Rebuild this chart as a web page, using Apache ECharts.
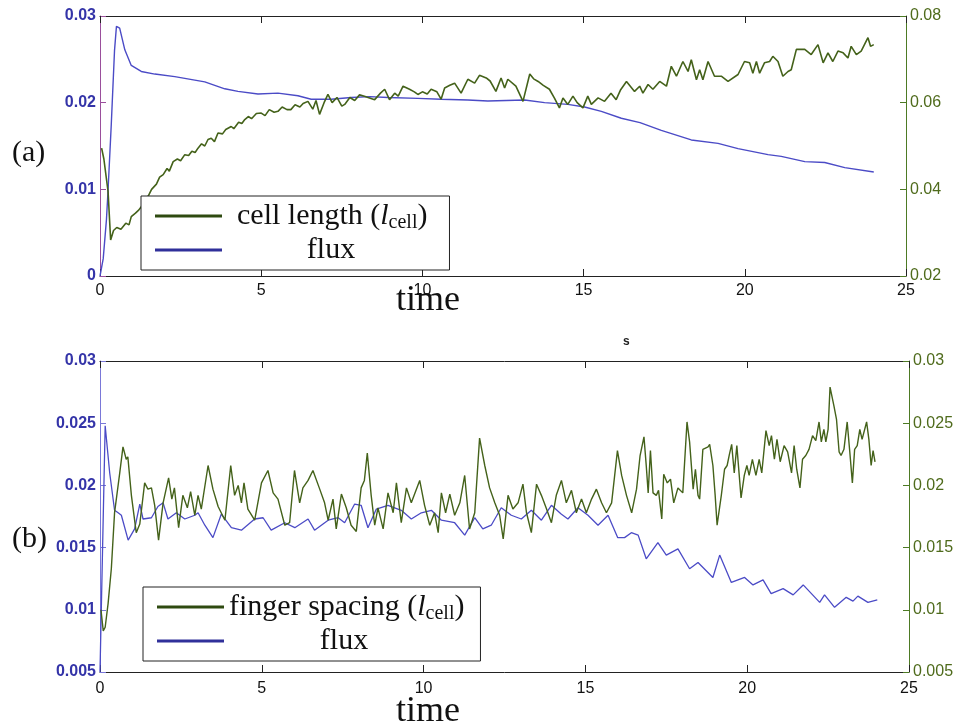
<!DOCTYPE html>
<html><head><meta charset="utf-8">
<script src="https://cdn.jsdelivr.net/npm/echarts@6/dist/echarts.min.js"></script>
<style>html,body{margin:0;padding:0;background:#fff}#c{width:963px;height:725px}</style>
</head><body><div id="c"></div><script>
// ---- tick values ----
const xTicks = [0, 5, 10, 15, 20, 25];
const topLeftTicks = [0, 0.01, 0.02, 0.03];
const topRightTicks = [0.02, 0.04, 0.06, 0.08];
const botLeftTicks = [0.005, 0.01, 0.015, 0.02, 0.025, 0.03];
const botRightTicks = [0.005, 0.01, 0.015, 0.02, 0.025, 0.03];

// ---- (a) flux, left axis ----
const topFlux = [[0,0],[0.1,0.002],[0.2,0.0065],[0.25,0.0099],[0.35,0.0175],[0.45,0.026],[0.51,0.0288],[0.61,0.0286],[0.77,0.0261],[0.97,0.0243],[1.28,0.0236],[1.7,0.0233],[2.32,0.0230],[2.94,0.0226],[3.25,0.0224],[3.87,0.0216],[4.28,0.0213],[4.9,0.0210],[5.52,0.0211],[6.14,0.0208],[6.55,0.0204],[7.17,0.0204],[7.79,0.0206],[8.37,0.0207],[8.93,0.0206],[9.86,0.0205],[10.58,0.0204],[11.41,0.0203],[12.03,0.0202],[13.17,0.0203],[13.79,0.0200],[14.51,0.0198],[15.03,0.0195],[15.55,0.0190],[16.17,0.0182],[16.75,0.0177],[17.41,0.0168],[18.34,0.0157],[19.17,0.0153],[19.79,0.0147],[20.72,0.0140],[21.13,0.0138],[21.86,0.0132],[22.48,0.0131],[23.1,0.0125],[24.0,0.0120]];

// ---- (a) cell length, right axis ----
const topCell = [[0.05,0.0495],[0.12,0.0470],[0.25,0.0395],[0.33,0.0283],[0.42,0.0305],[0.52,0.0312],[0.65,0.0308],[0.8,0.0322],[0.9,0.0318],[0.97,0.0337],[1.1,0.0345],[1.2,0.0352],[1.28,0.0360],[1.4,0.0375],[1.5,0.0385],[1.6,0.0400],[1.75,0.0412],[1.85,0.0428],[1.96,0.0434],[2.08,0.0448],[2.15,0.0442],[2.27,0.0464],[2.4,0.0470],[2.5,0.0466],[2.63,0.0480],[2.75,0.0478],[2.85,0.0488],[2.95,0.0485],[3.04,0.0495],[3.15,0.0505],[3.25,0.0500],[3.35,0.0515],[3.45,0.0518],[3.55,0.0510],[3.66,0.0530],[3.8,0.0528],[3.9,0.0538],[4.07,0.0545],[4.15,0.0540],[4.3,0.0555],[4.4,0.0552],[4.49,0.0561],[4.6,0.0568],[4.7,0.0563],[4.85,0.0575],[5.0,0.0576],[5.12,0.0570],[5.25,0.0584],[5.4,0.0578],[5.52,0.0580],[5.65,0.0590],[5.8,0.0584],[5.92,0.0584],[6.05,0.0595],[6.2,0.0590],[6.3,0.0598],[6.45,0.0603],[6.6,0.0585],[6.7,0.0605],[6.81,0.0573],[6.95,0.0600],[7.07,0.0619],[7.2,0.0600],[7.35,0.0612],[7.5,0.0592],[7.59,0.0596],[7.75,0.0612],[7.9,0.0605],[8.05,0.0618],[8.2,0.0615],[8.52,0.0607],[8.7,0.0622],[8.83,0.0631],[8.98,0.0607],[9.14,0.0622],[9.25,0.0615],[9.4,0.0638],[9.6,0.0631],[9.75,0.0625],[9.86,0.0619],[10.0,0.0625],[10.15,0.0620],[10.27,0.0631],[10.45,0.0625],[10.58,0.0608],[10.69,0.0634],[10.85,0.0640],[11.0,0.0645],[11.2,0.0622],[11.41,0.0654],[11.62,0.0645],[11.77,0.0663],[11.98,0.0657],[12.1,0.0650],[12.28,0.0626],[12.44,0.0657],[12.55,0.0634],[12.65,0.0654],[12.9,0.0638],[13.12,0.0603],[13.33,0.0666],[13.45,0.0655],[13.59,0.0649],[13.75,0.0640],[13.94,0.0631],[14.1,0.0610],[14.25,0.0588],[14.36,0.0611],[14.51,0.0596],[14.67,0.0615],[14.8,0.0600],[14.98,0.0588],[15.13,0.0615],[15.24,0.0596],[15.45,0.0611],[15.65,0.0603],[15.85,0.0622],[16.01,0.0607],[16.15,0.0630],[16.33,0.0649],[16.58,0.0626],[16.74,0.0638],[16.84,0.0622],[17.0,0.0642],[17.15,0.0631],[17.36,0.0649],[17.57,0.0638],[17.72,0.0684],[17.88,0.0661],[18.08,0.0695],[18.24,0.0672],[18.34,0.0699],[18.5,0.0653],[18.6,0.0676],[18.7,0.0653],[18.86,0.0695],[19.06,0.0661],[19.27,0.0661],[19.48,0.0649],[19.79,0.0665],[19.99,0.0695],[20.15,0.0692],[20.25,0.0668],[20.36,0.0695],[20.46,0.0668],[20.61,0.0692],[20.77,0.0695],[20.87,0.0707],[21.03,0.0695],[21.18,0.0661],[21.34,0.0672],[21.44,0.0676],[21.6,0.0723],[21.86,0.0723],[22.06,0.0711],[22.27,0.0734],[22.43,0.0692],[22.58,0.0715],[22.73,0.0695],[22.89,0.0719],[23.05,0.0715],[23.2,0.0703],[23.3,0.0730],[23.46,0.0711],[23.61,0.0719],[23.82,0.0750],[23.9,0.0730],[24.0,0.0734]];

// ---- (b) flux, left axis ----
const botFlux = [[0,0.005],[0.08,0.015],[0.16,0.0248],[0.3,0.021],[0.45,0.018],[0.56,0.0178],[0.66,0.0176],[0.87,0.0156],[1.07,0.0165],[1.23,0.0185],[1.33,0.0173],[1.59,0.0174],[1.79,0.0183],[1.95,0.0186],[2.1,0.0173],[2.36,0.0178],[2.62,0.0173],[2.93,0.0176],[3.03,0.0178],[3.24,0.0168],[3.49,0.0158],[3.75,0.0177],[4.06,0.0166],[4.37,0.0164],[4.78,0.0173],[5.04,0.0174],[5.29,0.0164],[5.71,0.0170],[6.02,0.0166],[6.43,0.0173],[6.63,0.0164],[7.05,0.0172],[7.36,0.0174],[7.56,0.0170],[7.87,0.0185],[8.07,0.0184],[8.28,0.0166],[8.54,0.0181],[8.9,0.0184],[9.31,0.0180],[9.62,0.0173],[9.93,0.0178],[10.24,0.0180],[10.55,0.0172],[10.96,0.0170],[11.27,0.0160],[11.58,0.0174],[11.83,0.0165],[12.09,0.0168],[12.4,0.0182],[12.71,0.0176],[13.02,0.0173],[13.33,0.0180],[13.64,0.0172],[13.95,0.0184],[14.25,0.0177],[14.46,0.0173],[14.77,0.0182],[15.08,0.0176],[15.39,0.0168],[15.7,0.0176],[16.0,0.0158],[16.21,0.0158],[16.42,0.0162],[16.63,0.0160],[16.88,0.0141],[17.24,0.0154],[17.5,0.0144],[17.86,0.0149],[18.22,0.0133],[18.48,0.0138],[18.94,0.0126],[19.15,0.0144],[19.51,0.0122],[19.92,0.0126],[20.18,0.0120],[20.49,0.0124],[20.74,0.0113],[21.11,0.0117],[21.42,0.0112],[21.73,0.0120],[22.24,0.0106],[22.39,0.0112],[22.7,0.0102],[23.06,0.0110],[23.27,0.0107],[23.42,0.0111],[23.73,0.0106],[24.02,0.0108]];

// ---- (b) finger spacing, right axis ----
const botFinger = [[0.03,0.0100],[0.1,0.0083],[0.16,0.0086],[0.25,0.0105],[0.35,0.0133],[0.45,0.0178],[0.61,0.0210],[0.71,0.0231],[0.81,0.0221],[0.86,0.0223],[0.97,0.0192],[1.12,0.0162],[1.23,0.0169],[1.38,0.0202],[1.48,0.0197],[1.59,0.0198],[1.69,0.0184],[1.81,0.0156],[1.95,0.0186],[2.12,0.0206],[2.22,0.0189],[2.3,0.0198],[2.43,0.0166],[2.56,0.0192],[2.7,0.0182],[2.8,0.0195],[2.93,0.0176],[3.03,0.0192],[3.13,0.0181],[3.34,0.0216],[3.49,0.0197],[3.65,0.0183],[3.86,0.0172],[4.04,0.0216],[4.16,0.0192],[4.27,0.0200],[4.37,0.0186],[4.45,0.0202],[4.57,0.0181],[4.78,0.0172],[4.99,0.0202],[5.19,0.0212],[5.35,0.0194],[5.5,0.0189],[5.71,0.0168],[5.86,0.0170],[6.01,0.0212],[6.17,0.0186],[6.27,0.0198],[6.43,0.0204],[6.58,0.0212],[6.79,0.0197],[6.94,0.0186],[7.05,0.0172],[7.2,0.0189],[7.3,0.0165],[7.46,0.0193],[7.61,0.0182],[7.76,0.0168],[7.92,0.0163],[8.07,0.0198],[8.17,0.0204],[8.26,0.0226],[8.38,0.0192],[8.49,0.0168],[8.59,0.0182],[8.75,0.0165],[8.9,0.0194],[9.06,0.0178],[9.16,0.0202],[9.31,0.0170],[9.47,0.0198],[9.62,0.0186],[9.88,0.0204],[10.03,0.0184],[10.19,0.0168],[10.34,0.0178],[10.45,0.0162],[10.55,0.0194],[10.68,0.0178],[10.81,0.0193],[10.96,0.0176],[11.12,0.0186],[11.27,0.0208],[11.42,0.0165],[11.58,0.0178],[11.73,0.0238],[11.89,0.0216],[12.04,0.0198],[12.2,0.0186],[12.35,0.0176],[12.46,0.0157],[12.61,0.0192],[12.76,0.0181],[12.92,0.0186],[13.07,0.0201],[13.18,0.0178],[13.33,0.0162],[13.49,0.0201],[13.64,0.0192],[13.8,0.0181],[13.95,0.0170],[14.1,0.0192],[14.26,0.0204],[14.41,0.0186],[14.57,0.0196],[14.72,0.0178],[14.88,0.0189],[15.03,0.0178],[15.19,0.0189],[15.34,0.0197],[15.5,0.0186],[15.65,0.0178],[15.81,0.0186],[15.99,0.0228],[16.12,0.0208],[16.27,0.0192],[16.43,0.0178],[16.58,0.0197],[16.69,0.0224],[16.81,0.0239],[16.88,0.0216],[16.94,0.0194],[17.01,0.0228],[17.09,0.0194],[17.19,0.0192],[17.26,0.0196],[17.36,0.0173],[17.42,0.0209],[17.53,0.0202],[17.63,0.0205],[17.73,0.0186],[17.86,0.0198],[18.01,0.0194],[18.14,0.0251],[18.22,0.0235],[18.33,0.0197],[18.4,0.0213],[18.48,0.0192],[18.53,0.0189],[18.63,0.0229],[18.79,0.0231],[18.84,0.0233],[18.94,0.0216],[19.01,0.0192],[19.07,0.0168],[19.2,0.0192],[19.3,0.0213],[19.38,0.0216],[19.45,0.0225],[19.52,0.0233],[19.6,0.0210],[19.68,0.0232],[19.81,0.0190],[19.91,0.0208],[19.99,0.0216],[20.06,0.0208],[20.16,0.0221],[20.27,0.0208],[20.37,0.0221],[20.45,0.0210],[20.58,0.0244],[20.68,0.0232],[20.75,0.0240],[20.84,0.0221],[20.92,0.0237],[21.02,0.0219],[21.14,0.0232],[21.25,0.0227],[21.37,0.0210],[21.45,0.0232],[21.53,0.0213],[21.63,0.0198],[21.71,0.0221],[21.81,0.0224],[21.91,0.0229],[22.02,0.0240],[22.12,0.0236],[22.22,0.0251],[22.29,0.0235],[22.37,0.0245],[22.43,0.0235],[22.5,0.0245],[22.56,0.0279],[22.68,0.0264],[22.76,0.0253],[22.84,0.0227],[22.9,0.0224],[22.99,0.0229],[23.09,0.0251],[23.17,0.0227],[23.25,0.0202],[23.32,0.0229],[23.4,0.0232],[23.48,0.0245],[23.55,0.0237],[23.69,0.0251],[23.76,0.0237],[23.83,0.0216],[23.89,0.0228],[23.95,0.0219]];

const FLUX = '#4b4bc6', GREEN = '#44621a';
const BLUE_LBL = '#3434a8', GREEN_LBL = '#4f6b1c';
const serif = 'Liberation Serif';
const sans = 'Liberation Sans';

function rng(t){ return {min: t[0], max: t[t.length-1], interval: +(t[1]-t[0]).toFixed(6)}; }

function xAx(grid, pos, showLbl, margin){
  const r = rng(xTicks);
  return {type:'value', gridIndex:grid, position:pos, min:r.min, max:r.max, interval:r.interval,
    axisLine:{show:true, onZero:false, lineStyle:{color:'#222', width:1}},
    axisTick:{show:true, inside:true, length:7, lineStyle:{color:'#222'}},
    axisLabel:{show:showLbl, color:'#111', fontFamily:sans, fontSize:16, margin:margin},
    splitLine:{show:false}};
}
function yAx(grid, pos, ticks, lineColor, lblColor, bold){
  const r = rng(ticks);
  return {type:'value', gridIndex:grid, position:pos, min:r.min, max:r.max, interval:r.interval,
    axisLine:{show:true, onZero:false, lineStyle:{color:lineColor, width:1}},
    axisTick:{show:true, inside:true, length:6, lineStyle:{color:lineColor}},
    axisLabel:{color:lblColor, fontFamily:sans, fontSize:16, fontWeight: bold?'bold':'normal', margin:4},
    splitLine:{show:false}};
}

function legendRich(w){
  return {
    m:{fontFamily:serif, fontSize:30, color:'#111', lineHeight:28},
    i:{fontFamily:serif, fontSize:30, fontStyle:'italic', color:'#111', lineHeight:28},
    s:{fontFamily:serif, fontSize:20, color:'#111', lineHeight:28, verticalAlign:'top', padding:[11,0,0,0]},
    c:{fontFamily:serif, fontSize:30, color:'#111', lineHeight:28, width:w, align:'center'}
  };
}
function legendFmt(name){
  if (name === 'flux') return '{c|flux}';
  const base = name.replace(' (lcell)', '');
  return '{m|' + base + ' (}{i|l}{s|cell}{m|)}';
}
function legend(left, top, first, w, textPad, rightPad){
  return {left:left, top:top, orient:'vertical', selectedMode:false,
    backgroundColor:'#fff', borderColor:'#222', borderWidth:1, padding:[5,rightPad,5,14],
    itemWidth:67, itemHeight:3, itemGap:2, icon:'rect',
    data:[{name:first, itemStyle:{color:'#2e4a10'}}, {name:'flux', itemStyle:{color:'#30309a'}}],
    formatter:legendFmt,
    textStyle:{fontFamily:serif, fontSize:30, color:'#111', lineHeight:28, padding:[0,0,0,textPad], rich:legendRich(w)}};
}

const chart = echarts.init(document.getElementById('c'), null, {renderer:'canvas'});
chart.setOption({
  animation:false,
  backgroundColor:'#fff',
  grid:[{left:100, top:16, width:806, height:260},{left:100, top:361, width:809, height:311}],
  xAxis:[xAx(0,'bottom',true,7), xAx(0,'top',false,8), xAx(1,'bottom',true,9), xAx(1,'top',false,8)],
  yAxis:[yAx(0,'left',topLeftTicks,'#9a4f9c',BLUE_LBL,true), yAx(0,'right',topRightTicks,'#4d7a24',GREEN_LBL,false),
         yAx(1,'left',botLeftTicks,'#7a78d8',BLUE_LBL,true), yAx(1,'right',botRightTicks,'#4d7a24',GREEN_LBL,false)],
  legend:[legend(141,196,'cell length (lcell)',188,10,22), legend(143,587,'finger spacing (lcell)',230,0,16)],
  series:[
    {name:'cell length (lcell)', type:'line', xAxisIndex:0, yAxisIndex:1, data:topCell, showSymbol:false, symbol:'none', lineStyle:{color:GREEN, width:1.6}, itemStyle:{color:GREEN}, z:3},
    {name:'flux', type:'line', xAxisIndex:0, yAxisIndex:0, data:topFlux, showSymbol:false, symbol:'none', lineStyle:{color:FLUX, width:1.4}, itemStyle:{color:FLUX}, z:2},
    {name:'finger spacing (lcell)', type:'line', xAxisIndex:2, yAxisIndex:3, data:botFinger, showSymbol:false, symbol:'none', lineStyle:{color:GREEN, width:1.4}, itemStyle:{color:GREEN}, z:3},
    {name:'flux', type:'line', xAxisIndex:2, yAxisIndex:2, data:botFlux, showSymbol:false, symbol:'none', lineStyle:{color:FLUX, width:1.3}, itemStyle:{color:FLUX}, z:2}
  ],
  graphic:[
    {type:'text', left:12, top:138, style:{text:'(a)', fontFamily:serif, fontSize:30, fill:'#111'}},
    {type:'text', left:12, top:524, style:{text:'(b)', fontFamily:serif, fontSize:30, fill:'#111'}},
    {type:'text', left:396, top:283, style:{text:'time', fontFamily:serif, fontSize:36, fill:'#111'}},
    {type:'text', left:396, top:694, style:{text:'time', fontFamily:serif, fontSize:36, fill:'#111'}},
    {type:'text', left:623, top:336, style:{text:'s', fontFamily:sans, fontSize:12, fontWeight:'bold', fill:'#222'}}
  ]
});
</script></body></html>
